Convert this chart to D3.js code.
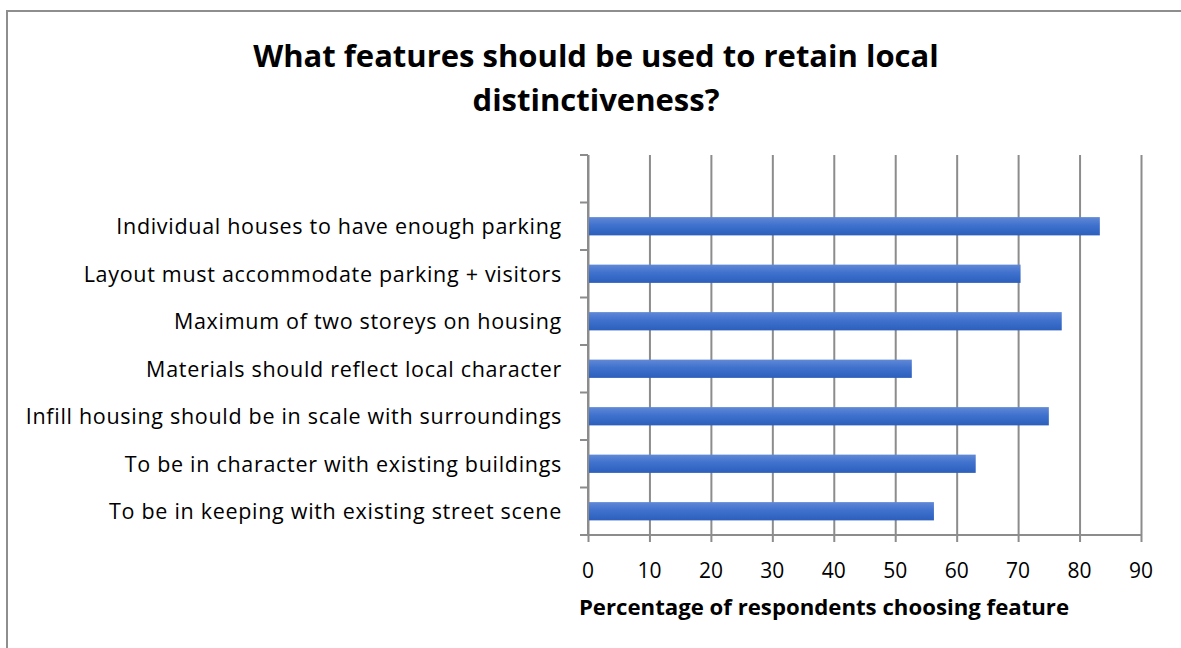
<!DOCTYPE html>
<html>
<head>
<meta charset="utf-8">
<script src="https://cdn.jsdelivr.net/npm/d3@7"></script>
<style>
  html, body { margin: 0; padding: 0; background: #fff; }
  svg { display: block; }
  text { font-family: "Open Sans", Lato, sans-serif; fill: #000; }
</style>
</head>
<body>
<svg id="chart" width="1181" height="648"></svg>
<script>
// ---- data ----
const categories = [
  "Individual houses to have enough parking",
  "Layout must accommodate parking + visitors",
  "Maximum of two storeys on housing",
  "Materials should reflect local character",
  "Infill housing should be in scale with surroundings",
  "To be in character with existing buildings",
  "To be in keeping with existing street scene"
];
const values = [83.3, 70.4, 77.1, 52.7, 75.0, 63.1, 56.3];
const xTicks = [0, 10, 20, 30, 40, 50, 60, 70, 80, 90];
const titleLines = ["What features should be used to retain local", "distinctiveness?"];
const xTitle = "Percentage of respondents choosing feature";

// ---- layout ----
const svg = d3.select("#chart");
const plot = { left: 588, right: 1141, top: 155, bottom: 535 };
const gridColor = "#8c8c8c";

// outer chart border
svg.append("rect")
  .attr("x", 7).attr("y", 11)
  .attr("width", 1200).attr("height", 700)
  .attr("fill", "#fff")
  .attr("stroke", "#8e8e8e").attr("stroke-width", 2);

const x = d3.scaleLinear().domain([0, 90]).range([plot.left, plot.right]);
// one empty slot at the top of the category axis, as in the original
const y = d3.scaleBand().domain([""].concat(categories)).range([plot.top, plot.bottom]).padding(0);
const barH = y.bandwidth() / 2.6;

// gradient
const defs = svg.append("defs");
const grad = defs.append("linearGradient").attr("id", "barGrad")
  .attr("x1", 0).attr("y1", 0).attr("x2", 0).attr("y2", 1);
grad.append("stop").attr("offset", "0%").attr("stop-color", "#6189d6");
grad.append("stop").attr("offset", "45%").attr("stop-color", "#3f71cd");
grad.append("stop").attr("offset", "100%").attr("stop-color", "#2c5ebd");

// vertical gridlines (with ticks below the axis)
const xAxis = d3.axisBottom(x).tickValues(xTicks)
  .tickSize(-(plot.bottom - plot.top)).tickSizeOuter(0).tickFormat("");
const gGrid = svg.append("g").attr("transform", `translate(0,${plot.bottom})`).call(xAxis);
gGrid.select(".domain").remove();
gGrid.selectAll(".tick line").attr("stroke", gridColor).attr("stroke-width", 2)
  .attr("y2", 7).attr("y1", -(plot.bottom - plot.top));

// tick labels
svg.append("g").selectAll("text").data(xTicks).join("text")
  .attr("x", d => x(d)).attr("y", 578)
  .attr("text-anchor", "middle")
  .style("font-size", "21px")
  .text(d => d);

// category axis line and boundary ticks
const boundaries = y.domain().map(d => y(d)).concat([plot.bottom]);
svg.append("line")
  .attr("x1", x(0)).attr("x2", x(0))
  .attr("y1", plot.top).attr("y2", plot.bottom)
  .attr("stroke", gridColor).attr("stroke-width", 2);
svg.append("g").selectAll("line").data(boundaries).join("line")
  .attr("x1", x(0) - 8).attr("x2", x(0))
  .attr("y1", d => d).attr("y2", d => d)
  .attr("stroke", gridColor).attr("stroke-width", 2);
// horizontal axis line
svg.append("line")
  .attr("x1", x(0)).attr("x2", x(90))
  .attr("y1", plot.bottom).attr("y2", plot.bottom)
  .attr("stroke", gridColor).attr("stroke-width", 2);

// bars
svg.append("g").selectAll("rect").data(categories).join("rect")
  .attr("x", x(0) + 1)
  .attr("y", d => y(d) + y.bandwidth() / 2 - barH / 2)
  .attr("width", (d, i) => x(values[i]) - x(0) - 1)
  .attr("height", barH)
  .attr("fill", "url(#barGrad)");

// category labels
svg.append("g").selectAll("text").data(categories).join("text")
  .attr("x", 562)
  .attr("y", d => y(d) + y.bandwidth() / 2 + 8)
  .attr("text-anchor", "end")
  .style("font-size", "21.5px")
  .style("letter-spacing", "0.7px")
  .text(d => d);

// title
svg.append("g").selectAll("text").data(titleLines).join("text")
  .attr("x", 596)
  .attr("y", (d, i) => 67 + i * 44)
  .attr("text-anchor", "middle")
  .style("font-size", "31px").style("font-weight", "bold")
  .text(d => d);

// x axis title
svg.append("text")
  .attr("x", 824).attr("y", 615)
  .attr("text-anchor", "middle")
  .style("font-size", "22.2px").style("font-weight", "bold")
  .text(xTitle);
</script>
</body>
</html>
